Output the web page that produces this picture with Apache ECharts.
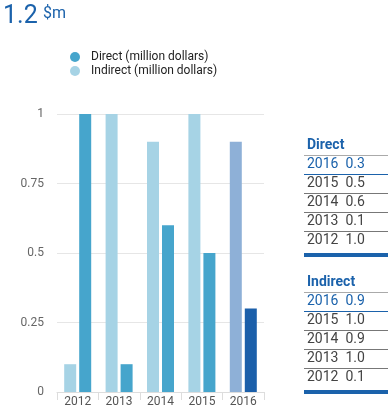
<!DOCTYPE html>
<html><head><meta charset="utf-8">
<script src="https://cdn.jsdelivr.net/npm/echarts@6/dist/echarts.min.js"></script>
<style>html,body{margin:0;padding:0;background:#fff}#c{width:390px;height:410px}</style>
</head><body><div id="c"></div>
<script>
const years = ['2012','2013','2014','2015','2016'];
const directValues = [1.0, 0.1, 0.6, 0.5, 0.3];
const indirectValues = [0.1, 1.0, 0.9, 1.0, 0.9];
const yTicks = [0, 0.25, 0.5, 0.75, 1];
const titleValue = '1.2';
const titleUnit = '$m';
const directName = 'Direct (million dollars)';
const indirectName = 'Indirect (million dollars)';

const C = {
  direct: '#46a5cc', indirect: '#a6d3e5',
  directHi: '#1b5faa', indirectHi: '#8eb0d7',
  blue: '#1b62ab', text: '#444'
};
const last = years.length - 1;
function barData(vals, base, hi) {
  return vals.map((v, i) => ({ value: v, itemStyle: { color: i === last ? hi : base } }));
}

function table(title, vals, top) {
  const els = [];
  const x0 = 304, x1 = 388, rowH = 19;
  els.push({ type: 'text', left: 307, top: top - 8, style: { text: title, fill: C.blue, font: 'bold 14px Roboto' } });
  els.push({ type: 'rect', shape: { x: x0, y: top + 9, width: x1 - x0, height: 1 }, style: { fill: '#aaa' } });
  const order = years.map((y, i) => i).reverse();
  order.forEach((i, r) => {
    const cy = top + 19 + r * rowH;
    const first = r === 0;
    els.push({ type: 'text', left: 307, top: cy - 8, style: { text: years[i] + '  ' + vals[i].toFixed(1), fill: first ? C.blue : C.text, font: '14px Roboto' } });
    if (r < order.length - 1) {
      els.push({ type: 'rect', shape: { x: x0, y: cy + 9, width: x1 - x0, height: 1 }, style: { fill: first ? C.blue : '#777' } });
    }
  });
  const by = top + 19 + (order.length - 1) * rowH + 12;
  els.push({ type: 'rect', shape: { x: x0, y: by, width: x1 - x0, height: 4 }, style: { fill: C.blue } });
  return els;
}

const titleEls = [
  { type: 'text', x: 3, y: 16.5, style: { text: titleValue, fill: C.blue, font: '25px Roboto', verticalAlign: 'middle' } },
  { type: 'text', x: 43, y: 13.5, style: { text: titleUnit, fill: C.blue, font: '16px Roboto', verticalAlign: 'middle' } }
];

const chart = echarts.init(document.getElementById('c'), null, { renderer: 'canvas' });
chart.setOption({
  animation: false,
  textStyle: { fontFamily: 'Roboto' },
  legend: {
    orient: 'vertical', left: 65, top: 46, itemGap: 2,
    icon: 'circle', itemWidth: 10, itemHeight: 10,
    data: [directName, indirectName],
    textStyle: { color: '#222', fontSize: 12, fontFamily: 'Roboto', padding: [0,0,0,6] }
  },
  grid: { left: 57, right: 126, top: 114, bottom: 18 },
  xAxis: {
    type: 'category', data: years,
    axisLine: { lineStyle: { color: '#ddd' } },
    axisTick: { show: true, length: 8, lineStyle: { color: '#ddd' } },
    axisLabel: { color: '#555', fontSize: 12, margin: 4 }
  },
  yAxis: {
    type: 'value', min: 0, max: 1, interval: 0.25,
    axisLine: { show: false }, axisTick: { show: false },
    axisLabel: { color: '#666', fontSize: 12, margin: 13,
      formatter: v => yTicks.includes(v) ? String(v) : '' },
    splitLine: { lineStyle: { color: '#e6e6e6' } }
  },
  series: [
    { name: indirectName, type: 'bar', barWidth: 12, barGap: '25%',
      itemStyle: { color: C.indirect }, data: barData(indirectValues, C.indirect, C.indirectHi) },
    { name: directName, type: 'bar', barWidth: 12, barGap: '25%',
      itemStyle: { color: C.direct }, data: barData(directValues, C.direct, C.directHi) }
  ],
  graphic: [].concat(titleEls, table('Direct', directValues, 146), table('Indirect', indirectValues, 283))
});
</script></body></html>
